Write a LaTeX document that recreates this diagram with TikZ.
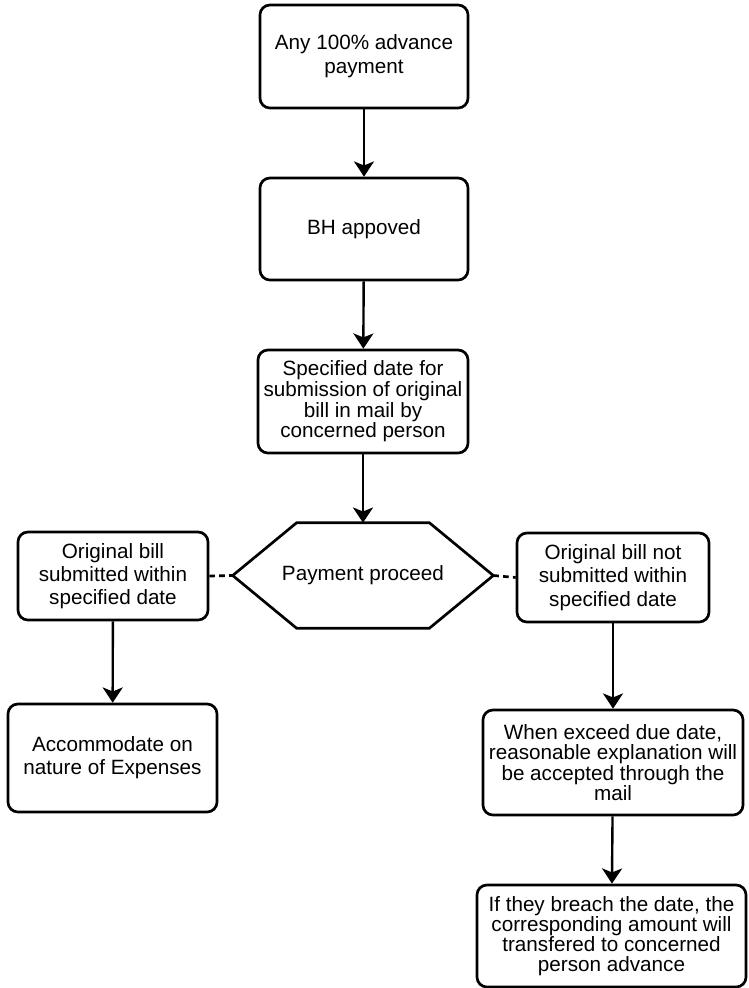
\documentclass[tikz,border=0pt]{standalone}
\usepackage{fontspec}
\setmainfont{Liberation Sans}
\usetikzlibrary{calc,positioning,arrows.meta}
\begin{document}
\begin{tikzpicture}[x=0.025cm,y=-0.025cm,
        blk/.style={draw,rounded corners=0.25cm,line width=1.9pt,align=center,inner sep=1pt,font=\fontsize{14.7}{16.5}\selectfont},
        hexa/.style={align=center,inner sep=0pt,font=\fontsize{14.7}{16.5}\selectfont},
        flow/.style={-{Stealth[length=0.38cm,width=0.5cm,inset=0.1cm]},line width=1.7pt},
        tie/.style={line width=1.9pt,dash pattern=on 4pt off 3pt}]
        \useasboundingbox (0,0) rectangle (749,988);
        \node[blk,minimum width=5.2cm,minimum height=2.575cm,font=\fontsize{14.7}{17}\selectfont] (adv) at (364,56.5) {Any 100\% advance\\payment};
        \node[blk,minimum width=5.2cm,minimum height=2.55cm] (bh) at (364,229) {BH appoved};
        \node[blk,minimum width=5.25cm,minimum height=2.575cm,font=\fontsize{14.7}{13}\selectfont] (due) at (363,401.5) {Specified date for\\submission of original\\bill in mail by\\concerned person};
        \node[hexa,minimum width=6.5cm,minimum height=2.625cm] (hx) at (363,575.5) {Payment proceed};
        \node[blk,minimum width=4.75cm,minimum height=2.2cm] (ok) at (113,576) {Original bill\\submitted within\\specified date};
        \node[blk,minimum width=4.8cm,minimum height=2.225cm] (late) at (613,577.5) {Original bill not\\submitted within\\specified date};
        \node[blk,minimum width=5.225cm,minimum height=2.7cm] (acc) at (112.5,758) {Accommodate on\\nature of Expenses};
        \node[blk,minimum width=6.5cm,minimum height=2.625cm,font=\fontsize{14.7}{14.6}\selectfont] (expl) at (613,762.5) {When exceed due date,\\reasonable explanation will\\be accepted through the\\mail};
        \node[blk,minimum width=6.725cm,minimum height=2.55cm,font=\fontsize{14.7}{14.3}\selectfont] (fine) at (611.5,936) {If they breach the date, the\\corresponding amount will\\transfered to concerned\\person advance};
        \draw[line width=1.9pt] (hx.west) -- ($(hx.north west)+(64,0)$) -- ($(hx.north east)+(-64,0)$) -- (hx.east)
                -- ($(hx.south east)+(-64,0)$) -- ($(hx.south west)+(64,0)$) -- cycle;
        \draw[flow] (adv) -- (bh);
        \draw[flow] (bh) -- (due);
        \draw[flow] (due) -- (hx.north);
        \draw[flow] (ok) -- (acc);
        \draw[flow] (late) -- (expl);
        \draw[flow] (expl) -- (fine);
        \draw[tie] (ok.east) -- (hx.west);
        \draw[tie] (hx.east) -- (late.west);
\end{tikzpicture}
\end{document}
